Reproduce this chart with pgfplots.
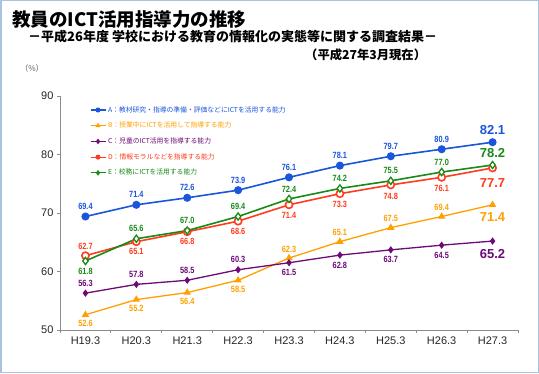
\documentclass[border=0pt]{standalone}
\usepackage{pgfplots}
\pgfplotsset{compat=1.18}
\usepackage{pgfplotstable}
\usepackage{fontspec}
\setmainfont{Liberation Sans}
\newfontfamily\jp{Noto Sans CJK JP}
\newfontfamily\lab{Liberation Sans}[FakeStretch=0.82]
\definecolor{cA}{HTML}{1A56DB}
\definecolor{cB}{HTML}{FFA000}
\definecolor{cC}{HTML}{6E0A78}
\definecolor{cD}{HTML}{FF3C1E}
\definecolor{cE}{HTML}{178A17}
\definecolor{frame}{HTML}{A9C2DE}
\definecolor{axgray}{HTML}{8C8C8C}

\pgfplotstableread{
x y dy
0 69.4 10
1 71.4 10
2 72.6 10
3 73.9 10
4 76.1 10
5 78.1 10
6 79.7 10
7 80.9 10
8 82.1 12
}\tA
\pgfplotstableread{
x y dy
0 52.6 -9
1 55.2 -9
2 56.4 -9
3 58.5 -9
4 62.3 9
5 65.1 9
6 67.5 9
7 69.4 9
8 71.4 -12
}\tB
\pgfplotstableread{
x y dy
0 56.3 10
1 57.8 10
2 58.5 10
3 60.3 10
4 61.5 -10
5 62.8 -10
6 63.7 -10
7 64.5 -10
8 65.2 -13
}\tC
\pgfplotstableread{
x y dy
0 62.7 9
1 65.1 -10
2 66.8 -10
3 68.6 -10
4 71.4 -11
5 73.3 -11
6 74.8 -11
7 76.1 -11
8 77.7 -15
}\tD
\pgfplotstableread{
x y dy
0 61.8 -10
1 65.6 10
2 67.0 10
3 69.4 10
4 72.4 10
5 74.2 10
6 75.5 10
7 77.0 10
8 78.2 12
}\tE

\newcommand{\labels}[2]{%
\addplot[draw=none, forget plot, restrict x to domain=0:7, nodes near coords,
  point meta=explicit symbolic, visualization depends on={\thisrow{dy} \as \dy},
  nodes near coords style={anchor=center, yshift=\dy bp, text=#2, inner sep=0pt,
  font=\lab\bfseries\fontsize{9bp}{10bp}\selectfont}] table[x=x,y=y,meta=y]{#1};
\addplot[draw=none, forget plot, restrict x to domain=7.5:8.5, nodes near coords,
  point meta=explicit symbolic, visualization depends on={\thisrow{dy} \as \dy},
  nodes near coords style={anchor=center, yshift=\dy bp, text=#2, inner sep=0pt,
  font=\bfseries\fontsize{13bp}{14bp}\selectfont}] table[x=x,y=y,meta=y]{#1};
}

\begin{document}
\begin{tikzpicture}[x=1bp,y=1bp]
\useasboundingbox (0,0) rectangle (539,373);
\fill[white] (0,0) rectangle (539,373);
\draw[frame, line width=1.5bp] (0.75,0.75) rectangle (538.25,372.25);
\node[anchor=west, inner sep=0pt] at (12,354) {\jp\bfseries\fontsize{18.5bp}{20bp}\selectfont 教員のICT活用指導力の推移};
\node[anchor=west, inner sep=0pt] at (28,336) {\jp\bfseries\fontsize{13bp}{14bp}\selectfont －平成26年度 学校における教育の情報化の実態等に関する調査結果－};
\node[anchor=west, inner sep=0pt] at (305,318) {\jp\bfseries\fontsize{12.3bp}{14bp}\selectfont （平成27年3月現在）};
\node[anchor=center, inner sep=0pt, text=black!65] at (32,305) {\jp\fontsize{8bp}{9bp}\selectfont （\%）};
\begin{axis}[
  at={(60bp,43bp)}, anchor=south west, scale only axis,
  width=458bp, height=234bp,
  xmin=-0.5, xmax=8.5, ymin=50, ymax=90,
  ytick={50,60,70,80,90},
  xtick={-0.5,0.5,...,8.5},
  x tick label as interval,
  xticklabels={H19.3,H20.3,H21.3,H22.3,H23.3,H24.3,H25.3,H26.3,H27.3},
  axis lines*=left,
  axis line style={axgray, line width=0.8bp},
  tick style={axgray, line width=0.8bp},
  major tick length=3bp,
  tick align=outside,
  ticklabel style={font=\fontsize{11bp}{12bp}\selectfont, text=black!85},
  /pgf/number format/assume math mode=true,
  clip=false,
  legend cell align=left,
  legend image code/.code={\draw[mark repeat=2,mark phase=2,#1,line width=1.1bp,mark size=2bp,mark options={line width=1bp}] plot coordinates {(0bp,0bp)(7.5bp,0bp)(15bp,0bp)};},
  legend style={draw=none, fill=none, at={(axis description cs:0.065,0.965)}, anchor=north west,
    row sep=4.5bp, inner sep=0pt, font=\jp\fontsize{6.8bp}{8bp}\selectfont},
]
\addplot[cA, line width=1.6bp, mark=*, mark size=3.2bp, mark options={solid}] table[x=x,y=y]{\tA};
\addlegendentry{\textcolor{cA}{A：教材研究・指導の準備・評価などにICTを活用する能力}}
\addplot[cB, line width=1.3bp, mark=triangle*, mark size=3bp] table[x=x,y=y]{\tB};
\addlegendentry{\textcolor{cB}{B：授業中にICTを活用して指導する能力}}
\addplot[cC, line width=1.3bp, mark=diamond*, mark size=2.6bp] table[x=x,y=y]{\tC};
\addlegendentry{\textcolor{cC}{C：児童のICT活用を指導する能力}}
\addplot[cD, line width=1.6bp, mark=*, mark size=3.6bp, mark options={fill=white, line width=1.6bp}] table[x=x,y=y]{\tD};
\addlegendentry{\textcolor{cD}{D：情報モラルなどを指導する能力}}
\addplot[cE, line width=1.6bp, mark=diamond*, mark size=3.6bp, mark options={fill=white, line width=1.3bp}] table[x=x,y=y]{\tE};
\addlegendentry{\textcolor{cE}{E：校務にICTを活用する能力}}
\labels{\tA}{cA}
\labels{\tB}{cB}
\labels{\tC}{cC}
\labels{\tD}{cD}
\labels{\tE}{cE}
\end{axis}
\end{tikzpicture}
\end{document}
